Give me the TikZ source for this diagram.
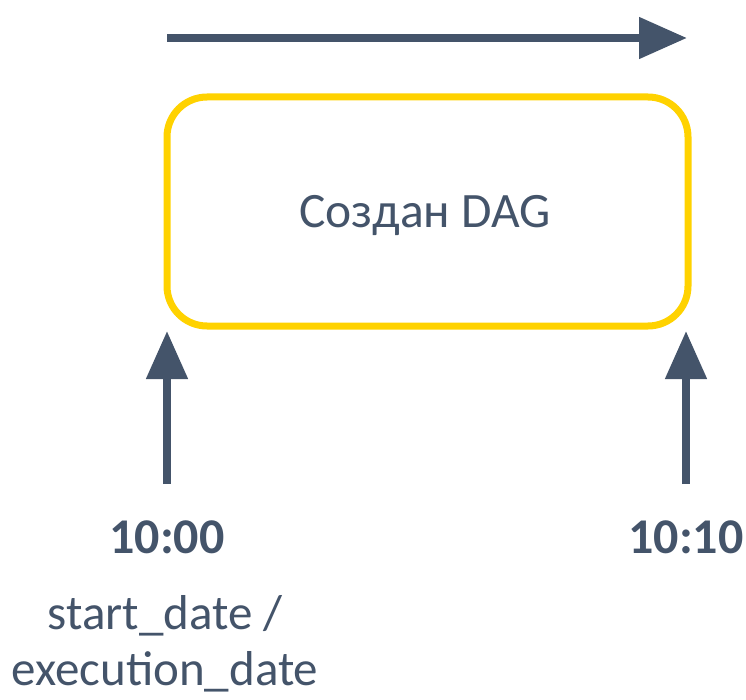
\documentclass[tikz,border=0pt]{standalone}
\usepackage{fontspec}
\setmainfont{Carlito}
\usetikzlibrary{arrows.meta}
\definecolor{slate}{HTML}{44546A}
\definecolor{gold}{HTML}{FFD200}
\tikzset{
  flow/.style={draw=slate, line width=8pt, -{Triangle[length=48pt,width=40pt]}},
  stagebox/.style={draw=gold, line width=7pt, rounded corners=40pt, rectangle,
    minimum width=521pt, minimum height=229pt},
  boxtext/.style={text=slate, font=\fontsize{49.5}{58}\selectfont},
  timelbl/.style={text=slate, font=\fontsize{50}{58}\selectfont\bfseries, inner sep=0pt},
  notelbl/.style={text=slate, font=\fontsize{49}{56}\selectfont, align=center, inner sep=0pt}
}
\begin{document}
\begin{tikzpicture}[x=1pt,y=-1pt]
  \useasboundingbox (0,0) rectangle (746,700);
  % time axis
  \coordinate (axisL) at (167,38);
  \coordinate (axisR) at (687,38);
  \draw[flow] (axisL) -- (axisR);
  % DAG run interval
  \node[stagebox] (dag) at (427.5,211.5) {};
  \node[boxtext] (dagtext) at (425,216) {Создан DAG};
  % interval boundaries
  \node[timelbl] (tstart) at (167,537) {10:00};
  \node[timelbl] (tend) at (686,537) {10:10};
  \coordinate (startBase) at (167,484);
  \coordinate (startTip) at (167,331);
  \coordinate (endBase) at (686,484);
  \coordinate (endTip) at (686,331);
  \draw[flow] (startBase) -- (startTip);
  \draw[flow] (endBase) -- (endTip);
  \node[notelbl, anchor=north] (note) at (165,595) {start\_date /\\execution\_date};
\end{tikzpicture}
\end{document}
